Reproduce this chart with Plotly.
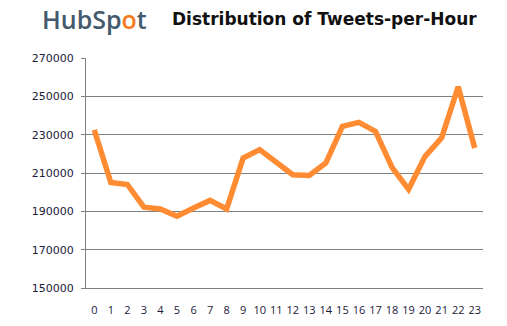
import plotly.graph_objects as go

hours = [str(h) for h in range(24)]
tweets = [232500, 205000, 204000, 192200, 191200, 187400, 191700, 195700, 191200, 217800,
          222200, 215500, 209100, 208700, 215200, 234300, 236400, 231700, 212900, 201500,
          218700, 228300, 255000, 223000]
y_ticks = [150000, 170000, 190000, 210000, 230000, 250000, 270000]

fig = go.Figure()
fig.add_trace(go.Scatter(x=hours, y=tweets, mode="lines",
                         line=dict(color="#FF8C33", width=5.5)))

fig.update_layout(
    width=507, height=326,
    margin=dict(l=86, r=24, t=58, b=38),
    paper_bgcolor="white", plot_bgcolor="white",
    showlegend=False,
    xaxis=dict(type="category", range=[-0.5, 23.5], showgrid=False, automargin=False,
               showline=True, linecolor="#808080", linewidth=1,
               ticks="", ticklabelstandoff=12,
               tickfont=dict(family="Open Sans", size=11, color="#1a1a3a")),
    yaxis=dict(range=[150000, 270000], tickvals=y_ticks, tickformat="d", automargin=False,
               showgrid=True, gridcolor="#808080", gridwidth=1,
               showline=True, linecolor="#808080", linewidth=1,
               zeroline=False, ticks="outside", ticklen=4, tickcolor="#808080",
               ticklabelstandoff=5,
               tickfont=dict(family="DejaVu Sans", size=11, color="#1a1a3a")),
    annotations=[
        dict(text="HubSp<span style='color:#F47A20'>o</span>t", x=40, y=19,
             xref="paper", yref="paper", showarrow=False, xanchor="left", yanchor="middle",
             font=dict(family="Open Sans", size=25, color="#44596B", weight=600)),
        dict(text="<b>Distribution of Tweets-per-Hour</b>", x=170, y=19,
             xref="paper", yref="paper", showarrow=False, xanchor="left", yanchor="middle",
             font=dict(family="DejaVu Sans", size=17, color="#111111")),
    ],
)
# convert pixel positions for annotations
W, H = 507, 326
l, r, t, b = 86, 24, 58, 38
pw, ph = W - l - r, H - t - b
for a in fig.layout.annotations:
    a.x = (a.x - l) / pw
    a.y = 1 - (a.y - t) / ph
fig.write_html("out.html")
